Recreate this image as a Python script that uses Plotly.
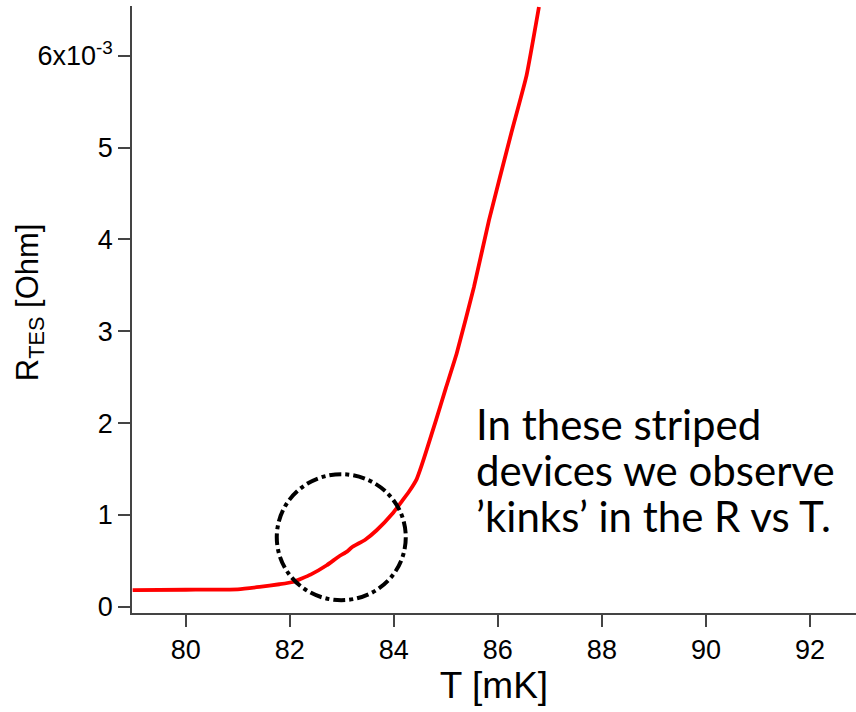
import plotly.graph_objects as go

# Data (T in mK, R in units of 1e-3 Ohm)
temperature_mK = [78.98, 80.0, 81.0, 81.42, 81.8, 82.06, 82.4, 82.71, 82.95, 83.1, 83.2,
                  83.45, 83.67, 83.98, 84.17, 84.3, 84.44, 84.53, 84.63, 84.81, 85.0,
                  85.21, 85.54, 85.83, 86.26, 86.55, 86.79]
resistance_mOhm = [0.18, 0.185, 0.19, 0.216, 0.245, 0.27, 0.35, 0.452, 0.55, 0.60, 0.65,
                   0.73, 0.833, 1.018, 1.16, 1.26, 1.39, 1.53, 1.705, 2.03, 2.38,
                   2.76, 3.48, 4.21, 5.16, 5.78, 6.53]
resistance_ohm = [v * 1e-3 for v in resistance_mOhm]

x_ticks = [80, 82, 84, 86, 88, 90, 92]
y_tick_vals = [0, 1e-3, 2e-3, 3e-3, 4e-3, 5e-3, 6e-3]
y_tick_text = ["0", "1", "2", "3", "4", "5", "6x10<sup>-3</sup>"]

# circle highlighting the kink (data coordinates)
circle_x = [81.75, 84.23]
circle_y = [0.071e-3, 1.443e-3]

note_lines = ["In these striped", "devices we observe", "’kinks’ in the R vs T."]
note_x = 85.56
note_y = [1.988e-3, 1.487e-3, 0.986e-3]

fig = go.Figure()
fig.add_trace(go.Scatter(
    x=temperature_mK, y=resistance_ohm, mode="lines",
    line=dict(color="#ff0000", width=3.8, shape="spline", smoothing=0.4),
    showlegend=False, hoverinfo="skip"))

fig.add_shape(type="circle", xref="x", yref="y",
              x0=circle_x[0], x1=circle_x[1], y0=circle_y[0], y1=circle_y[1],
              line=dict(color="black", width=4, dash="dashdot"))

for line_text, ly in zip(note_lines, note_y):
    fig.add_annotation(x=note_x, y=ly, xref="x", yref="y", text=line_text,
                       showarrow=False, xanchor="left", yanchor="middle", align="left",
                       borderpad=0, font=dict(family="Lato", size=42, color="black"))

# y-axis title as a rotated annotation for exact placement
fig.add_annotation(x=-0.141, y=0.512, xref="paper", yref="paper",
                   text="R<sub>TES</sub> [Ohm]", textangle=-90, showarrow=False,
                   xanchor="center", yanchor="middle",
                   font=dict(family="Liberation Sans, Arial", size=31, color="black"))

axis_font = dict(family="Liberation Sans, Arial", size=27, color="black")

fig.update_layout(
    width=856, height=712,
    margin=dict(l=132, r=0, t=6, b=99),
    paper_bgcolor="white", plot_bgcolor="white",
    xaxis=dict(range=[78.967, 92.885], tickvals=x_ticks, ticks="outside", ticklen=12,
               tickwidth=1.5, tickcolor="#444", showline=True, linecolor="#444",
               linewidth=1.5, showgrid=False, zeroline=False, tickfont=axis_font,
               automargin=False,
               title=dict(text="T [mK]", font=dict(family="Liberation Sans, Arial", size=37, color="black"),
                          standoff=8)),
    yaxis=dict(range=[-0.068e-3, 6.541e-3], tickvals=y_tick_vals, ticktext=y_tick_text,
               ticks="outside", ticklen=12, tickwidth=1.5, tickcolor="#444",
               showline=True, linecolor="#444", linewidth=1.5, showgrid=False,
               zeroline=False, tickfont=axis_font, automargin=False),
)

fig.write_html("out.html", config={"displayModeBar": False},
               post_script="document.body.style.margin='0';")
